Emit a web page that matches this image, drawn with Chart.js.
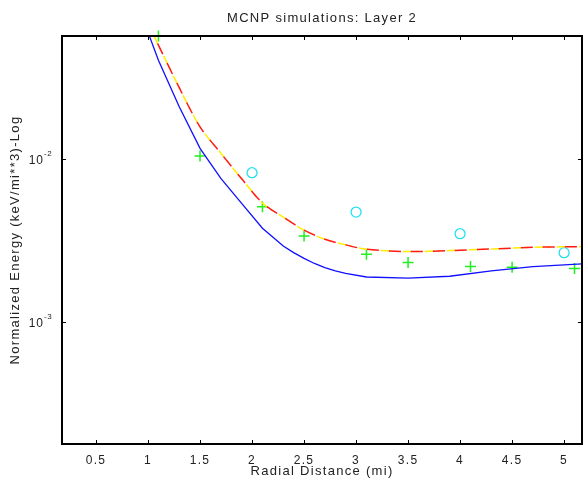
<!DOCTYPE html>
<html>
<head>
<meta charset="utf-8">
<script src="https://cdn.jsdelivr.net/npm/chart.js@4.4.1/dist/chart.umd.min.js"></script>
<style>
  html, body { margin: 0; padding: 0; background: #fff; }
  #chart { display: block; }
</style>
</head>
<body>
<canvas id="chart" width="585" height="489"></canvas>
<script>
// Axis ticks
const xTicks = [0.5, 1, 1.5, 2, 2.5, 3, 3.5, 4, 4.5, 5];
const yTicks = [1e-3, 1e-2];

// Solid blue curve
const blueX = [1.0, 1.1, 1.3, 1.5, 1.7, 1.9, 2.1, 2.3, 2.4, 2.5, 2.6, 2.7, 2.8, 2.9, 3.1, 3.5, 3.9, 4.3, 4.7, 5.2];
const blueY = [0.060, 0.0405, 0.0210, 0.01167, 0.00764, 0.00537, 0.00378, 0.00294, 0.00268, 0.00247,
               0.00230, 0.00217, 0.00207, 0.00200, 0.00190, 0.00187, 0.00192, 0.00207, 0.00220, 0.00229];

// Dashed red / yellow curve (both lie on top of each other)
const dashedX = [1.0, 1.1, 1.3, 1.5, 1.7, 1.9, 2.1, 2.3, 2.5, 2.7, 2.9, 3.1, 3.5, 3.9, 4.3, 4.7, 5.2];
const dashedY = [0.068, 0.0501, 0.0275, 0.0158, 0.0109, 0.0076, 0.0054, 0.00442, 0.00368,
                 0.00324, 0.00299, 0.00281, 0.00272, 0.00276, 0.00282, 0.00289, 0.00292];

// Markers
const plusX = [1.1, 1.5, 2.1, 2.5, 3.1, 3.5, 4.1, 4.5, 5.1];
const plusY = [0.057, 0.01047, 0.00513, 0.00339, 0.00262, 0.00233, 0.00220, 0.00218, 0.00214];
const circleX = [2, 3, 4, 5];
const circleY = [0.00828, 0.00475, 0.00350, 0.00268];

const TITLE = 'MCNP simulations: Layer 2';
const FONT = "'Liberation Sans', Arial, Helvetica, sans-serif";
const SPACING = '1.3px';
const toPoints = (xs, ys) => xs.map((x, i) => ({ x: x, y: ys[i] }));

// wide letter spacing like the original plot
const spacingPlugin = {
    id: 'spacing',
    beforeUpdate(chart) { chart.ctx.letterSpacing = SPACING; },
    beforeDraw(chart) { chart.ctx.letterSpacing = SPACING; }
};

// frame, inward ticks on all sides, 10^n labels and title centred on the axes
const framePlugin = {
    id: 'frame',
    afterDraw(chart) {
        const ctx = chart.ctx;
        const a = chart.chartArea;
        const xs = chart.scales.x;
        const ys = chart.scales.y;
        ctx.save();
        ctx.strokeStyle = '#000';
        ctx.lineWidth = 1;
        const len = 4;
        xTicks.forEach(v => {
            const px = Math.round(xs.getPixelForValue(v)) + 0.5;
            ctx.beginPath();
            ctx.moveTo(px, a.bottom); ctx.lineTo(px, a.bottom - len);
            ctx.moveTo(px, a.top); ctx.lineTo(px, a.top + len);
            ctx.stroke();
        });
        yTicks.forEach(v => {
            const py = Math.round(ys.getPixelForValue(v)) + 0.5;
            ctx.beginPath();
            ctx.moveTo(a.left, py); ctx.lineTo(a.left + len, py);
            ctx.moveTo(a.right, py); ctx.lineTo(a.right - len, py);
            ctx.stroke();

            // label: 10 with superscript exponent
            const exp = Math.round(Math.log10(v));
            ctx.fillStyle = '#222';
            ctx.letterSpacing = '1px';
            ctx.textBaseline = 'middle';
            ctx.textAlign = 'right';
            ctx.font = '12px ' + FONT;
            ctx.fillText('10', 44, py + 1);
            ctx.textAlign = 'left';
            ctx.letterSpacing = '0.5px';
            ctx.font = '8px ' + FONT;
            ctx.fillText(String(exp), 44, py - 6);
        });
        ctx.lineWidth = 2;
        ctx.strokeRect(a.left, a.top, a.right - a.left, a.bottom - a.top);

        ctx.letterSpacing = SPACING;
        ctx.fillStyle = '#222';
        ctx.font = '13px ' + FONT;
        ctx.textAlign = 'center';
        ctx.textBaseline = 'middle';
        ctx.fillText(TITLE, (a.left + a.right) / 2, 18.5);
        ctx.restore();
    }
};

new Chart(document.getElementById('chart'), {
    type: 'line',
    data: {
        datasets: [
            {
                data: toPoints(blueX, blueY),
                borderColor: '#1010ff',
                borderWidth: 1.3,
                pointRadius: 0,
                tension: 0
            },
            {
                data: toPoints(dashedX, dashedY),
                borderColor: '#ff1a1a',
                borderWidth: 1.5,
                borderDash: [12, 10],
                pointRadius: 0,
                tension: 0.3
            },
            {
                data: toPoints(dashedX, dashedY),
                borderColor: '#ffee00',
                borderWidth: 1.5,
                borderDash: [9, 4, 2, 7],
                borderDashOffset: 8,
                pointRadius: 0,
                tension: 0.3
            },
            {
                data: toPoints(plusX, plusY),
                showLine: false,
                pointStyle: 'cross',
                pointRadius: 5.5,
                pointBorderWidth: 1.5,
                borderColor: '#22ee22',
                backgroundColor: '#22ee22',
                clip: false
            },
            {
                data: toPoints(circleX, circleY),
                showLine: false,
                pointStyle: 'circle',
                pointRadius: 5,
                pointBorderWidth: 1.3,
                borderColor: '#22e0f0',
                backgroundColor: 'rgba(0,0,0,0)',
                clip: false
            }
        ]
    },
    options: {
        responsive: false,
        animation: false,
        devicePixelRatio: 1,
        // no extra room for marker overflow: the axes box is fixed
        layout: { autoPadding: false, padding: { left: 0, right: 3, top: 36, bottom: 0 } },
        plugins: {
            legend: { display: false },
            tooltip: { enabled: false },
            title: { display: false }
        },
        scales: {
            x: {
                type: 'linear',
                min: 0.173,
                max: 5.172,
                grid: { display: false },
                border: { display: false },
                afterBuildTicks: scale => { scale.ticks = xTicks.map(v => ({ value: v })); },
                afterFit: scale => {
                    scale.height = 45;
                    scale.paddingLeft = 0;
                    scale.paddingRight = 0;
                },
                ticks: {
                    color: '#222',
                    padding: 1,
                    maxRotation: 0,
                    autoSkip: false,
                    font: { family: FONT, size: 12 },
                    callback: v => String(v)
                },
                title: {
                    display: true,
                    text: 'Radial Distance (mi)',
                    color: '#222',
                    font: { family: FONT, size: 13 },
                    padding: { top: 0, bottom: 10 }
                }
            },
            y: {
                type: 'logarithmic',
                min: 1.8e-4,
                max: 0.057,
                grid: { display: false },
                border: { display: false },
                afterBuildTicks: scale => { scale.ticks = yTicks.map(v => ({ value: v })); },
                afterFit: scale => { scale.width = 62; },
                ticks: { display: false },
                title: {
                    display: true,
                    text: 'Normalized Energy (keV/mi**3)-Log',
                    color: '#222',
                    font: { family: FONT, size: 13 },
                    padding: { top: 8, bottom: 0 }
                }
            }
        }
    },
    plugins: [spacingPlugin, framePlugin]
});
</script>
</body>
</html>
